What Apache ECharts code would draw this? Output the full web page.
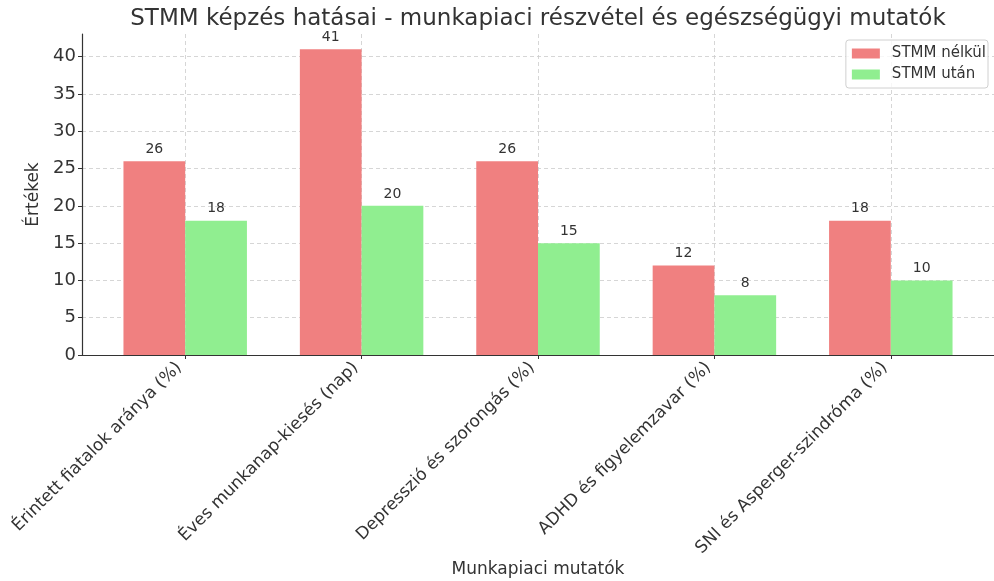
<!DOCTYPE html>
<html>
<head>
<meta charset="utf-8">
<script src="https://cdn.jsdelivr.net/npm/echarts@6/dist/echarts.min.js"></script>
<style>
  html, body { margin: 0; padding: 0; background: #ffffff; }
  #chart { width: 994px; height: 581px; }
</style>
</head>
<body>
<div id="chart"></div>
<script>
// Indicators on the horizontal axis
const categories = [
  'Érintett fiatalok aránya (%)',
  'Éves munkanap-kiesés (nap)',
  'Depresszió és szorongás (%)',
  'ADHD és figyelemzavar (%)',
  'SNI és Asperger-szindróma (%)'
];
const seriesNames = ['STMM nélkül', 'STMM után'];
const withoutValues = [26, 41, 26, 12, 18];
const afterValues = [18, 20, 15, 8, 10];
const yTicks = [0, 5, 10, 15, 20, 25, 30, 35, 40];

const FONT = '"DejaVu Sans", sans-serif';
const TEXT = '#333333';
const categoryIndex = categories.map((_, i) => i);

// Bars are 0.35 category units wide, pairs meet at the category centre
const BAR_UNITS = 0.35;
const X_MIN = -0.585, X_MAX = 4.585;
const Y_MAX = 43.05;
const GRID = { left: 82, right: 0, top: 34, bottom: 226, outerBoundsMode: 'none' };

const chart = echarts.init(document.getElementById('chart'), null, { renderer: 'canvas' });
const plotWidth = chart.getWidth() - GRID.left - GRID.right;
const barPx = BAR_UNITS * plotWidth / (X_MAX - X_MIN);

const gridLine = { show: true, lineStyle: { color: '#cccccc', type: [4, 3], width: 0.8 } };

function barSeries(name, values, color) {
  return {
    type: 'bar',
    name: name,
    data: categoryIndex.map(i => [i, values[i]]),
    barWidth: barPx,
    barGap: '0%',
    itemStyle: { color: color },
    label: {
      show: true,
      position: 'top',
      distance: 5,
      color: TEXT,
      fontSize: 14,
      fontFamily: FONT,
      formatter: p => String(p.value[1])
    }
  };
}

chart.setOption({
  animation: false,
  backgroundColor: '#ffffff',
  title: {
    text: 'STMM képzés hatásai - munkapiaci részvétel és egészségügyi mutatók',
    left: GRID.left + plotWidth / 2 - 5,
    textAlign: 'center',
    top: 3,
    textStyle: { fontFamily: FONT, fontSize: 23, fontWeight: 'normal', color: TEXT }
  },
  legend: {
    data: seriesNames,
    orient: 'vertical',
    right: 6,
    top: 40,
    itemWidth: 28,
    itemHeight: 10,
    itemGap: 6,
    padding: [6, 2, 6, 6],
    borderColor: '#d0d0d0',
    borderWidth: 1,
    borderRadius: 3,
    backgroundColor: 'rgba(255,255,255,0.8)',
    icon: 'rect',
    textStyle: { fontFamily: FONT, fontSize: 15, color: TEXT, padding: [0, 0, 0, 7] }
  },
  grid: GRID,
  xAxis: {
    type: 'value',
    min: X_MIN,
    max: X_MAX,
    name: 'Munkapiaci mutatók',
    nameLocation: 'middle',
    nameGap: 206,
    nameMoveOverlap: false,
    nameTextStyle: { fontFamily: FONT, fontSize: 17, color: TEXT },
    axisLine: { show: true, onZero: false, lineStyle: { color: '#333333', width: 1.2 } },
    axisTick: { show: true, customValues: categoryIndex, length: 4, lineStyle: { color: '#333333' } },
    axisLabel: {
      customValues: categoryIndex,
      formatter: v => categories[Math.round(v)],
      rotate: 45,
      margin: 16,
      verticalAlign: 'bottom',
      fontFamily: FONT,
      fontSize: 17,
      color: TEXT
    },
    splitLine: gridLine
  },
  yAxis: {
    type: 'value',
    min: 0,
    max: Y_MAX,
    name: 'Értékek',
    nameLocation: 'middle',
    nameGap: 34,
    nameTextStyle: { fontFamily: FONT, fontSize: 17, color: TEXT },
    axisLine: { show: true, onZero: false, lineStyle: { color: '#333333', width: 1.2 } },
    axisTick: { show: true, customValues: yTicks, length: 4, lineStyle: { color: '#333333' } },
    axisLabel: {
      customValues: yTicks,
      margin: 6,
      fontFamily: FONT,
      fontSize: 18,
      color: TEXT
    },
    splitLine: gridLine
  },
  series: [
    barSeries(seriesNames[0], withoutValues, '#F08080'),
    barSeries(seriesNames[1], afterValues, '#90EE90')
  ]
});
</script>
</body>
</html>
